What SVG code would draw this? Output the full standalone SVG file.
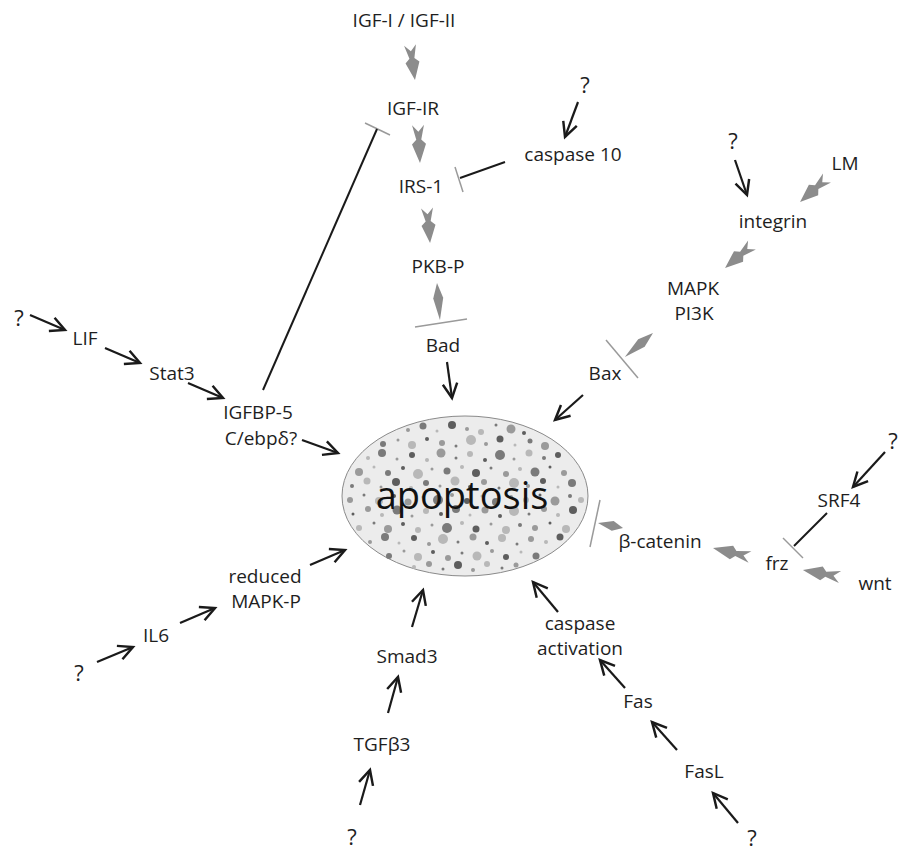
<svg xmlns="http://www.w3.org/2000/svg" xmlns:xlink="http://www.w3.org/1999/xlink" width="900" height="852" viewBox="0 0 900 852">
<style>
text{font-family:"Open Sans","DejaVu Sans",sans-serif;font-size:19px;fill:#1e1e1e;text-anchor:middle}
.big{font-size:38px;fill:#111}
.q{font-size:22px}
.arr{stroke:#1a1a1a;stroke-width:2.2;fill:none;marker-end:url(#head)}
.inh{stroke:#1a1a1a;stroke-width:2;fill:none}
.bar{stroke:#9a9a9a;stroke-width:1.5;fill:none}
.g{fill:#8c8c8c}
.a{fill:#7a7a7a}.b{fill:#9a9a9a}.c{fill:#b8b8b8}.d{fill:#5e5e5e}
</style>
<defs>
<marker id="head" markerUnits="userSpaceOnUse" markerWidth="20" markerHeight="20" viewBox="-15 -9 18 18" refX="0" refY="0" orient="auto">
<path d="M-13,-6.5 L0,0 L-13,6.5" stroke="#1a1a1a" stroke-width="2.2" fill="none"/>
</marker>
<path id="dbl" d="M0,-6 L13,-2.5 L17,-7 L34,0 L17,7 L13,2.5 L0,6 L6,0 Z"/>
<path id="dia" d="M0,0 L14,-5 L34,0 L14,5 Z"/>
</defs>
<rect width="900" height="852" fill="#ffffff"/>

<g id="apoptosis">
<ellipse cx="465" cy="496" rx="123" ry="80" fill="#ececec" stroke="#8a8a8a" stroke-width="1"/>
<g>
<circle cx="408" cy="430" r="2" class="b"/><circle cx="423" cy="426" r="3.5" class="a"/><circle cx="437" cy="431" r="1.5" class="c"/><circle cx="452" cy="425" r="4" class="d"/><circle cx="467" cy="429" r="2" class="b"/><circle cx="481" cy="432" r="3" class="c"/><circle cx="496" cy="425" r="1.5" class="a"/><circle cx="511" cy="429" r="4.5" class="b"/><circle cx="524" cy="433" r="2" class="d"/>
<circle cx="383" cy="444" r="3" class="a"/><circle cx="398" cy="440" r="1.5" class="b"/><circle cx="412" cy="445" r="4" class="c"/><circle cx="427" cy="439" r="2" class="d"/><circle cx="442" cy="443" r="3" class="b"/><circle cx="456" cy="446" r="1.5" class="a"/><circle cx="471" cy="440" r="5" class="c"/><circle cx="486" cy="444" r="2" class="b"/><circle cx="500" cy="439" r="3.5" class="d"/><circle cx="515" cy="445" r="1.5" class="c"/><circle cx="530" cy="441" r="2.5" class="a"/><circle cx="545" cy="446" r="4" class="b"/>
<circle cx="368" cy="458" r="2" class="c"/><circle cx="382" cy="453" r="4" class="a"/><circle cx="397" cy="459" r="1.5" class="b"/><circle cx="412" cy="455" r="3" class="d"/><circle cx="427" cy="460" r="2" class="c"/><circle cx="441" cy="453" r="4.5" class="b"/><circle cx="456" cy="458" r="1.5" class="a"/><circle cx="470" cy="454" r="3" class="c"/><circle cx="485" cy="460" r="2" class="d"/><circle cx="500" cy="455" r="5" class="a"/><circle cx="514" cy="459" r="1.5" class="b"/><circle cx="529" cy="453" r="3.5" class="c"/><circle cx="544" cy="458" r="2" class="a"/><circle cx="558" cy="455" r="3" class="d"/>
<circle cx="359" cy="472" r="4" class="b"/><circle cx="374" cy="467" r="1.5" class="c"/><circle cx="388" cy="473" r="3" class="a"/><circle cx="403" cy="468" r="2" class="d"/><circle cx="418" cy="474" r="5" class="c"/><circle cx="432" cy="469" r="1.5" class="b"/><circle cx="447" cy="471" r="3.5" class="a"/><circle cx="462" cy="467" r="2" class="c"/><circle cx="476" cy="473" r="4" class="d"/><circle cx="491" cy="468" r="1.5" class="a"/><circle cx="506" cy="474" r="3" class="b"/><circle cx="520" cy="469" r="2" class="c"/><circle cx="535" cy="472" r="4.5" class="a"/><circle cx="550" cy="467" r="1.5" class="d"/><circle cx="564" cy="473" r="3" class="b"/>
<circle cx="352" cy="486" r="2" class="a"/><circle cx="367" cy="481" r="3.5" class="c"/><circle cx="381" cy="487" r="1.5" class="b"/><circle cx="396" cy="482" r="4" class="d"/><circle cx="411" cy="488" r="2" class="c"/><circle cx="426" cy="483" r="3" class="a"/><circle cx="440" cy="486" r="1.5" class="b"/><circle cx="455" cy="481" r="4.5" class="c"/><circle cx="470" cy="487" r="2" class="d"/><circle cx="484" cy="482" r="3" class="b"/><circle cx="499" cy="488" r="1.5" class="a"/><circle cx="514" cy="483" r="5" class="c"/><circle cx="528" cy="486" r="2" class="b"/><circle cx="543" cy="481" r="3" class="d"/><circle cx="558" cy="487" r="1.5" class="c"/><circle cx="572" cy="483" r="4" class="a"/>
<circle cx="350" cy="500" r="3" class="b"/><circle cx="364" cy="495" r="1.5" class="a"/><circle cx="379" cy="501" r="4" class="c"/><circle cx="394" cy="496" r="2" class="d"/><circle cx="408" cy="502" r="3.5" class="b"/><circle cx="423" cy="497" r="1.5" class="c"/><circle cx="438" cy="500" r="5" class="a"/><circle cx="452" cy="495" r="2" class="b"/><circle cx="467" cy="501" r="3" class="d"/><circle cx="482" cy="496" r="1.5" class="c"/><circle cx="496" cy="502" r="4" class="a"/><circle cx="511" cy="497" r="2" class="b"/><circle cx="526" cy="500" r="3" class="c"/><circle cx="540" cy="495" r="1.5" class="d"/><circle cx="555" cy="501" r="4.5" class="b"/><circle cx="570" cy="496" r="2" class="a"/><circle cx="581" cy="500" r="3" class="c"/>
<circle cx="353" cy="514" r="1.5" class="d"/><circle cx="368" cy="509" r="3" class="b"/><circle cx="382" cy="515" r="2" class="c"/><circle cx="397" cy="510" r="4.5" class="a"/><circle cx="412" cy="516" r="1.5" class="b"/><circle cx="426" cy="511" r="3" class="c"/><circle cx="441" cy="514" r="2" class="d"/><circle cx="456" cy="509" r="4" class="a"/><circle cx="470" cy="515" r="1.5" class="c"/><circle cx="485" cy="510" r="3.5" class="b"/><circle cx="500" cy="516" r="2" class="d"/><circle cx="514" cy="511" r="5" class="c"/><circle cx="529" cy="514" r="1.5" class="a"/><circle cx="544" cy="509" r="3" class="b"/><circle cx="558" cy="515" r="2" class="c"/><circle cx="573" cy="510" r="4" class="d"/>
<circle cx="359" cy="528" r="3" class="c"/><circle cx="374" cy="523" r="1.5" class="a"/><circle cx="388" cy="529" r="4" class="b"/><circle cx="403" cy="524" r="2" class="d"/><circle cx="418" cy="530" r="3" class="c"/><circle cx="432" cy="525" r="1.5" class="b"/><circle cx="447" cy="528" r="5" class="a"/><circle cx="462" cy="523" r="2" class="c"/><circle cx="476" cy="529" r="3.5" class="d"/><circle cx="491" cy="524" r="1.5" class="b"/><circle cx="506" cy="530" r="4" class="c"/><circle cx="520" cy="525" r="2" class="a"/><circle cx="535" cy="528" r="3" class="b"/><circle cx="550" cy="523" r="1.5" class="d"/><circle cx="566" cy="529" r="4" class="c"/>
<circle cx="370" cy="542" r="2" class="b"/><circle cx="385" cy="537" r="4" class="a"/><circle cx="399" cy="543" r="1.5" class="c"/><circle cx="414" cy="538" r="3" class="d"/><circle cx="429" cy="544" r="2" class="b"/><circle cx="443" cy="539" r="5" class="c"/><circle cx="458" cy="542" r="1.5" class="a"/><circle cx="473" cy="537" r="3.5" class="b"/><circle cx="487" cy="543" r="2" class="d"/><circle cx="502" cy="538" r="4" class="c"/><circle cx="517" cy="544" r="1.5" class="a"/><circle cx="531" cy="539" r="3" class="b"/><circle cx="546" cy="542" r="2" class="c"/><circle cx="560" cy="537" r="3.5" class="d"/>
<circle cx="389" cy="556" r="3" class="a"/><circle cx="404" cy="551" r="1.5" class="b"/><circle cx="418" cy="557" r="4" class="c"/><circle cx="433" cy="552" r="2" class="d"/><circle cx="448" cy="558" r="3" class="b"/><circle cx="462" cy="553" r="1.5" class="a"/><circle cx="477" cy="556" r="4.5" class="c"/><circle cx="492" cy="551" r="2" class="b"/><circle cx="506" cy="557" r="3" class="d"/><circle cx="521" cy="552" r="1.5" class="c"/><circle cx="536" cy="556" r="3.5" class="a"/>
<circle cx="414" cy="567" r="2" class="c"/><circle cx="429" cy="564" r="3" class="b"/><circle cx="443" cy="569" r="1.5" class="a"/><circle cx="458" cy="565" r="4" class="d"/><circle cx="473" cy="570" r="2" class="b"/><circle cx="487" cy="564" r="3" class="c"/><circle cx="502" cy="568" r="1.5" class="a"/><circle cx="516" cy="565" r="2.5" class="b"/>
</g>
<text x="462" y="509" class="big">apoptosis</text>
</g>

<g id="connectors">
<use xlink:href="#dbl" class="g" transform="translate(410,45) rotate(81.9) scale(1.04,1)"/>
<use xlink:href="#dbl" class="g" transform="translate(418,125) rotate(87) scale(1.12,1)"/>
<use xlink:href="#dbl" class="g" transform="translate(427,208) rotate(85) scale(1.03,1)"/>
<use xlink:href="#dia" class="g" transform="translate(437,283) rotate(85.4) scale(1.09,1)"/>
<use xlink:href="#dbl" class="g" transform="translate(827,178) rotate(138.4) scale(1.06,1)"/>
<use xlink:href="#dbl" class="g" transform="translate(752,245) rotate(139.6) scale(1.04,1)"/>
<use xlink:href="#dia" class="g" transform="translate(653,333) rotate(139.4) scale(1.09,1)"/>
<use xlink:href="#dbl" class="g" transform="translate(840,577) rotate(190.7) scale(1.11,1)"/>
<use xlink:href="#dbl" class="g" transform="translate(750,557) rotate(193.7) scale(1.12,1)"/>
<use xlink:href="#dia" class="g" transform="translate(623,528) rotate(191.3) scale(0.75,1)"/>
<line class="bar" x1="365" y1="123" x2="390" y2="135"/>
<line class="inh" x1="263" y1="390" x2="377" y2="129" stroke-width="1.8"/>
<line class="bar" x1="455" y1="167" x2="463" y2="192"/>
<line class="inh" x1="505" y1="162" x2="460" y2="178" stroke-width="2.4"/>
<line class="bar" x1="415" y1="327" x2="467" y2="319"/>
<line class="bar" x1="606" y1="340" x2="638" y2="378"/>
<line class="bar" x1="600" y1="500" x2="590" y2="547"/>
<line class="bar" x1="783" y1="538" x2="803" y2="558"/>
<line class="inh" x1="827" y1="513" x2="794" y2="546"/>
<line class="arr" x1="578" y1="102" x2="565" y2="137"/>
<line class="arr" x1="735" y1="160" x2="747" y2="195"/>
<line class="arr" x1="447" y1="362" x2="452" y2="398"/>
<line class="arr" x1="583" y1="395" x2="555" y2="420"/>
<line class="arr" x1="30" y1="315" x2="65" y2="330"/>
<line class="arr" x1="105" y1="348" x2="140" y2="363"/>
<line class="arr" x1="188" y1="383" x2="223" y2="398"/>
<line class="arr" x1="302" y1="440" x2="338" y2="453"/>
<line class="arr" x1="885" y1="452" x2="853" y2="487"/>
<line class="arr" x1="97" y1="662" x2="133" y2="647"/>
<line class="arr" x1="180" y1="623" x2="215" y2="608"/>
<line class="arr" x1="310" y1="565" x2="345" y2="550"/>
<line class="arr" x1="412" y1="627" x2="423" y2="590"/>
<line class="arr" x1="388" y1="713" x2="398" y2="677"/>
<line class="arr" x1="360" y1="805" x2="370" y2="770"/>
<line class="arr" x1="558" y1="612" x2="533" y2="582"/>
<line class="arr" x1="625" y1="688" x2="600" y2="660"/>
<line class="arr" x1="677" y1="750" x2="652" y2="722"/>
<line class="arr" x1="738" y1="823" x2="713" y2="793"/>
</g>

<g id="igf"><text x="404" y="27">IGF-I / IGF-II</text></g>
<g id="igf-ir"><text x="413" y="115">IGF-IR</text></g>
<g id="irs-1"><text x="421" y="193">IRS-1</text></g>
<g id="pkb-p"><text x="438" y="273">PKB-P</text></g>
<g id="bad"><text x="443" y="352">Bad</text></g>
<g id="q-casp"><text class="q" x="585" y="93">?</text></g>
<g id="caspase10"><text x="573" y="161">caspase 10</text></g>
<g id="q-integrin"><text class="q" x="733" y="149">?</text></g>
<g id="lm"><text x="845" y="170">LM</text></g>
<g id="integrin"><text x="773" y="228">integrin</text></g>
<g id="mapk-pi3k"><text x="693" y="295">MAPK</text><text x="694" y="320">PI3K</text></g>
<g id="bax"><text x="605" y="380">Bax</text></g>
<g id="q-lif"><text class="q" x="19" y="326">?</text></g>
<g id="lif"><text x="85" y="345">LIF</text></g>
<g id="stat3"><text x="172" y="380">Stat3</text></g>
<g id="igfbp5"><text x="258" y="419">IGFBP-5</text><text x="261" y="445">C/ebpδ?</text></g>
<g id="q-srf4"><text class="q" x="893" y="449">?</text></g>
<g id="srf4"><text x="839" y="507">SRF4</text></g>
<g id="frz"><text x="777" y="570">frz</text></g>
<g id="wnt"><text x="875" y="590">wnt</text></g>
<g id="bcatenin"><text x="660" y="548">β-catenin</text></g>
<g id="reduced-mapk"><text x="265" y="583">reduced</text><text x="266" y="608">MAPK-P</text></g>
<g id="il6"><text x="156" y="642">IL6</text></g>
<g id="q-il6"><text class="q" x="79" y="681">?</text></g>
<g id="smad3"><text x="407" y="663">Smad3</text></g>
<g id="tgfb3"><text x="382" y="751">TGFβ3</text></g>
<g id="q-tgf"><text class="q" x="352" y="845">?</text></g>
<g id="caspase-act"><text x="580" y="630">caspase</text><text x="580" y="655">activation</text></g>
<g id="fas"><text x="638" y="708">Fas</text></g>
<g id="fasl"><text x="704" y="778">FasL</text></g>
<g id="q-fasl"><text class="q" x="752" y="846">?</text></g>
</svg>
